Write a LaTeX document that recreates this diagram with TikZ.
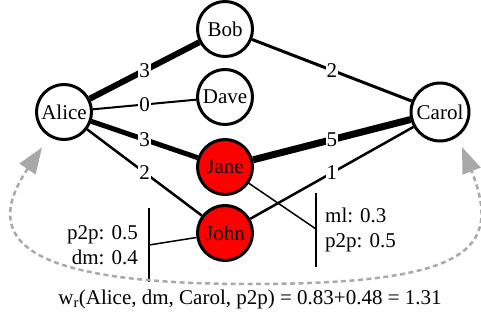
\documentclass[tikz,border=0pt]{standalone}
\usepackage{fontspec}
\setmainfont{Liberation Serif}
\usetikzlibrary{arrows.meta}
\pgfdeclarelayer{background}
\pgfsetlayers{background,main}
\definecolor{dashgray}{RGB}{169,169,169}
\definecolor{nodered}{RGB}{255,0,0}
\begin{document}
\begin{tikzpicture}[x=1pt,y=-1pt,
  every node/.style={font=\fontsize{21}{25}\selectfont},
  person/.style={circle,draw=black,line width=3pt,fill=white,minimum size=55pt,inner sep=0pt},
  hot/.style={person,fill=nodered},
  lbl/.style={fill=white,inner sep=1pt,midway},
  edge/.style={draw=black,line cap=butt},
  note/.style={draw=black,line width=1.5pt},
  bar/.style={draw=black,line width=2pt},
  flow/.style={draw=dashgray,line width=2.5pt,dash pattern=on 5pt off 3.5pt,
    {Triangle[length=26pt,width=19pt]}-{Triangle[length=26pt,width=19pt]}}
]
\useasboundingbox (0,0) rectangle (481,320);
\node[person] (alice) at (64,112) {Alice};
\node[person] (bob) at (225,29) {Bob};
\node[person] (dave) at (225,97) {Dave};
\node[person,minimum size=58pt] (carol) at (440,112) {Carol};
\node[hot] (jane) at (225,167) {Jane};
\node[hot] (john) at (225,233) {John};
\begin{pgfonlayer}{background}
\draw[edge,line width=6pt] (alice) -- node[lbl]{3} (bob);
\draw[edge,line width=2pt] (alice) -- node[lbl]{0} (dave);
\draw[edge,line width=5pt] (alice) -- node[lbl]{3} (jane);
\draw[edge,line width=2.5pt] (alice) -- node[lbl]{2} (john);
\draw[edge,line width=3pt] (bob) -- node[lbl]{2} (carol);
\draw[edge,line width=7pt] (jane) -- node[lbl]{5} (carol);
\draw[edge,line width=2.5pt] (john) -- node[lbl]{1} (carol);
\end{pgfonlayer}
% annotations
\coordinate (ra) at (316,229);
\coordinate (rt) at (316,193);
\coordinate (rb) at (316,267);
\coordinate (la) at (149,245);
\coordinate (lt) at (149,208);
\coordinate (lb) at (149,282);
\draw[note] (jane) -- (ra);
\draw[note] (john) -- (la);
\draw[bar] (rt) -- (rb);
\draw[bar] (lt) -- (lb);
\node[anchor=west,align=left,inner sep=0pt] (rtext) at (325,230) {ml: 0.3\\p2p: 0.5};
\node[anchor=east,align=right,inner sep=0pt] (ltext) at (138,245) {p2p: 0.5\\dm: 0.4};
% dashed flow arc
\coordinate (tipA) at (42,147.5);
\coordinate (tipB) at (462,147);
\coordinate (mid) at (250,284);
\draw[flow] (tipA) .. controls (-19.6,238.8) and (20,284) .. (mid)
  .. controls (470,284) and (502.7,249.3) .. (tipB);
\node (formula) at (250,299) {w\textsubscript{r}(Alice, dm, Carol, p2p) = 0.83+0.48 = 1.31};
\end{tikzpicture}
\end{document}
